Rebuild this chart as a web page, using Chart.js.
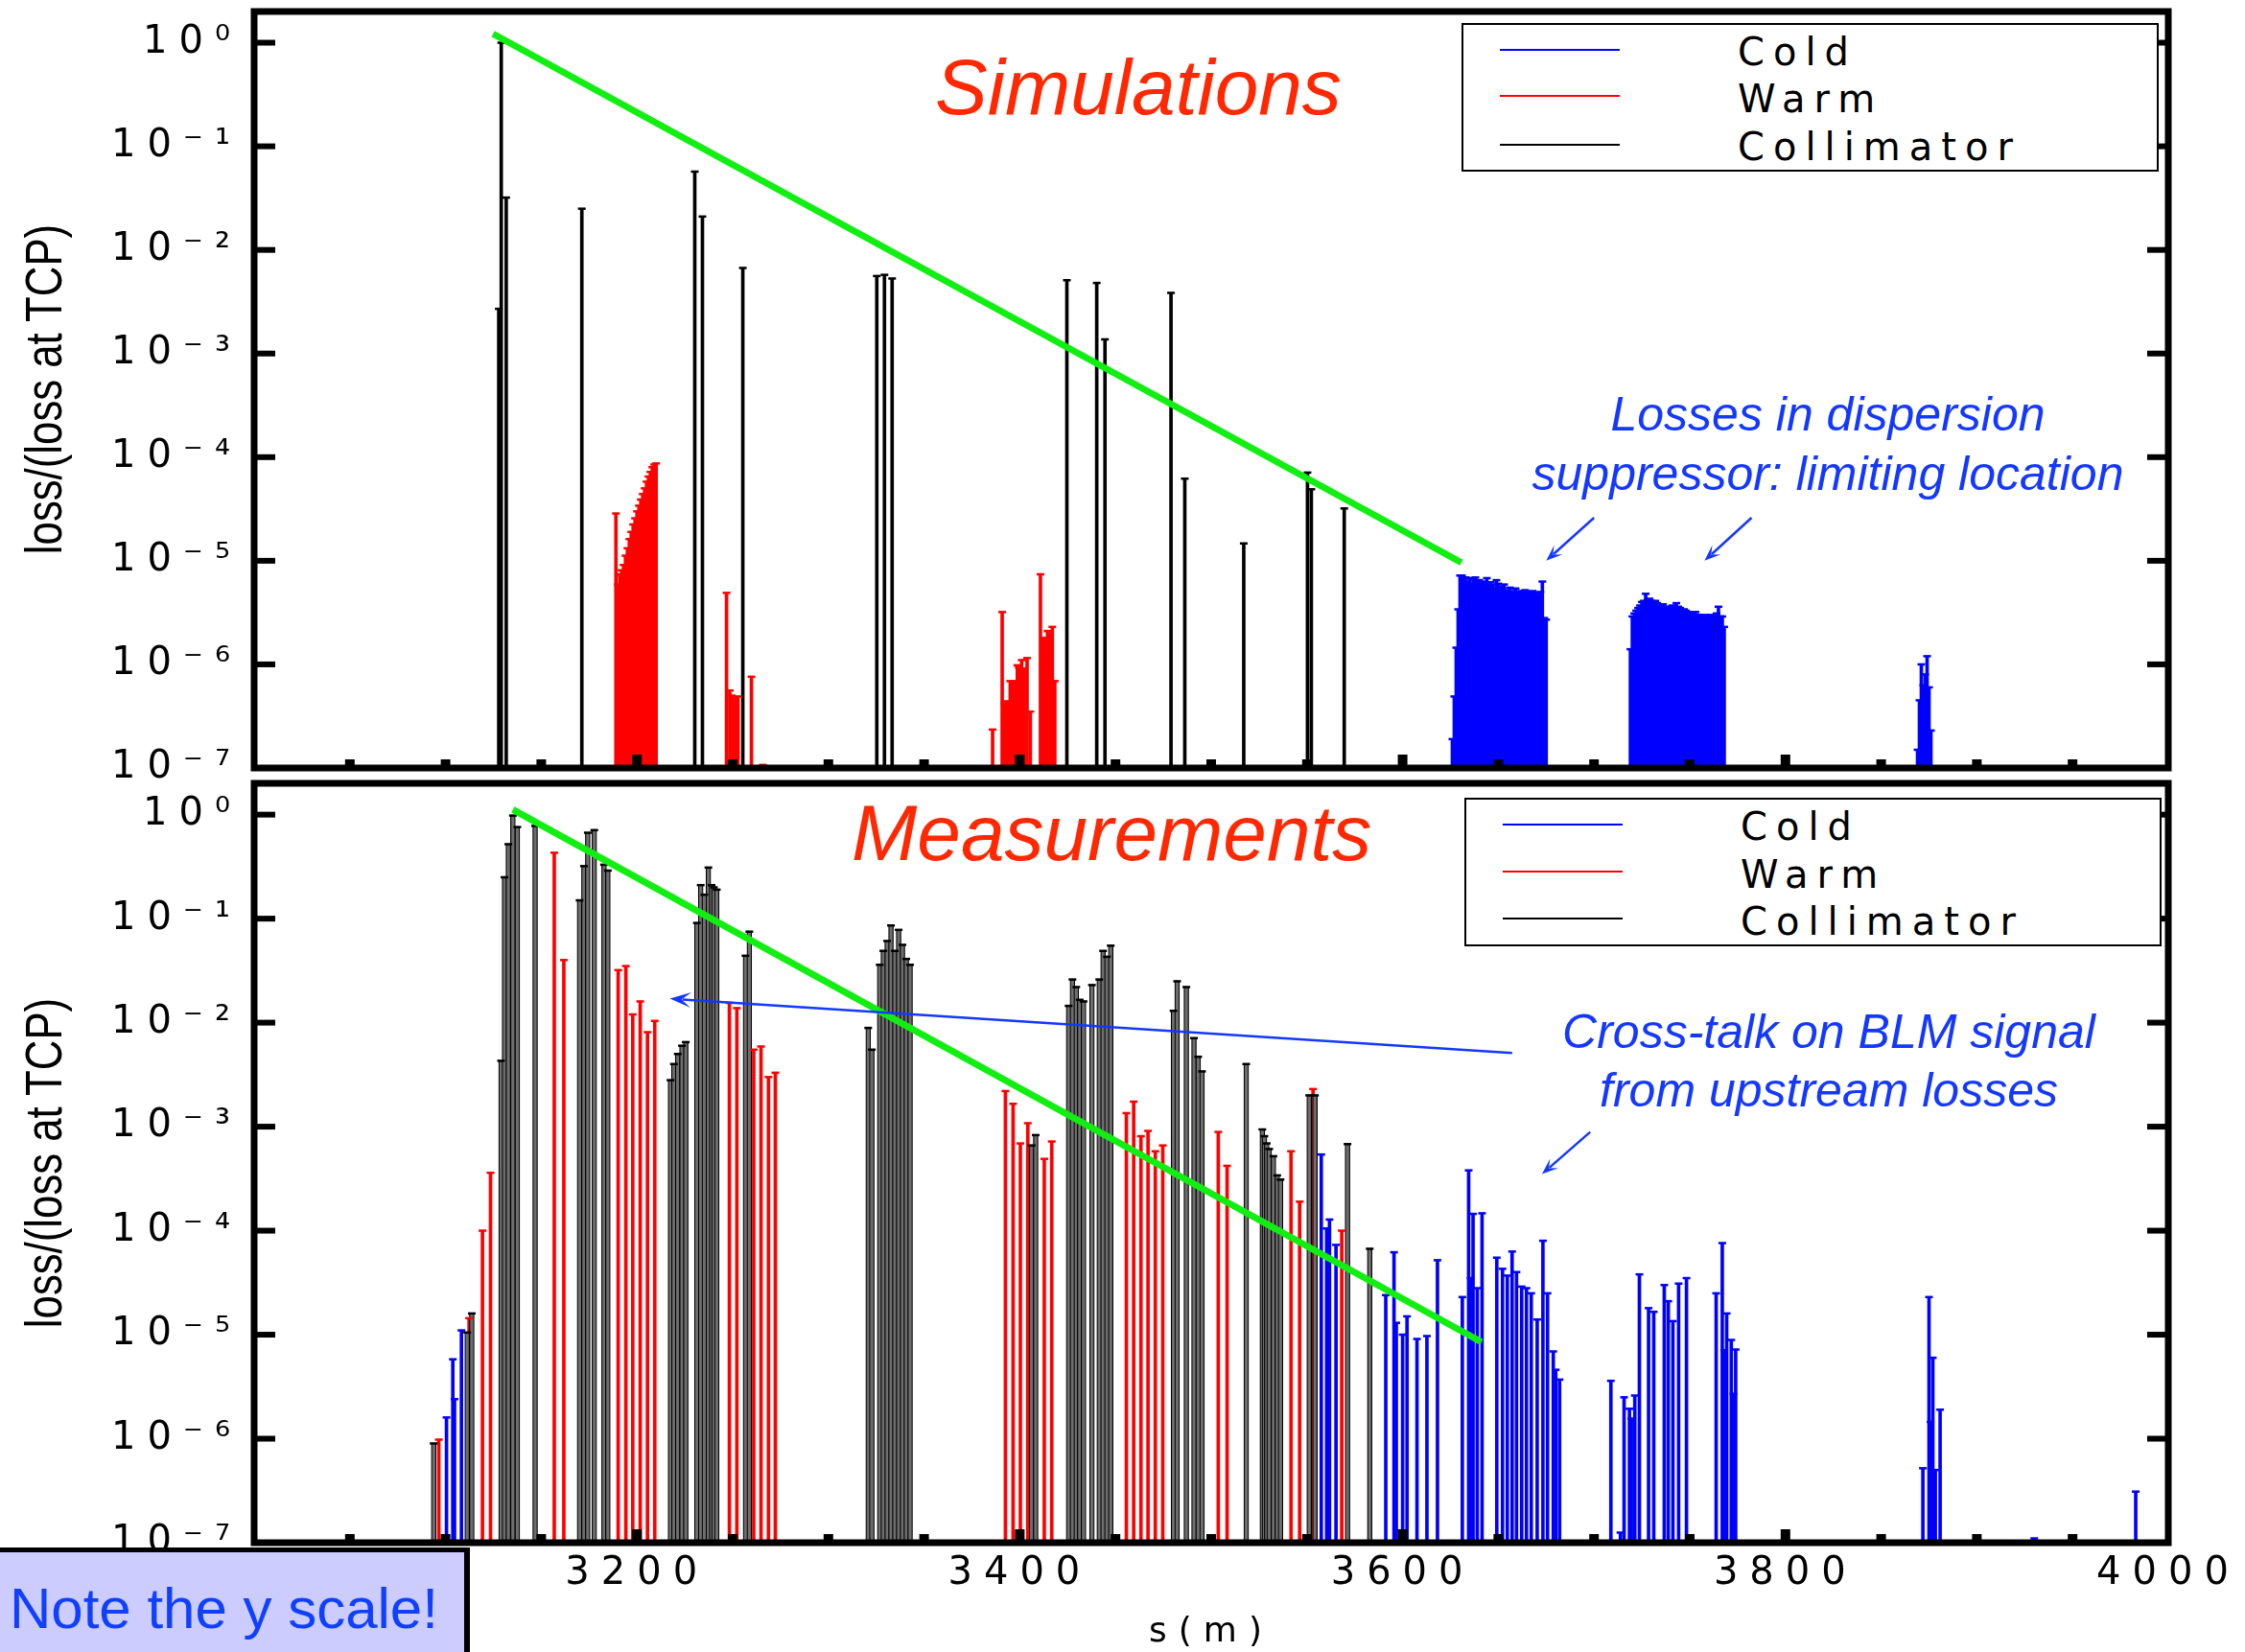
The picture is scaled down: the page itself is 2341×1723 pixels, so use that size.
<!DOCTYPE html>
<html>
<head>
<meta charset="utf-8">
<script src="https://cdn.jsdelivr.net/npm/chart.js@4.4.1/dist/chart.umd.min.js"></script>
<style>
html,body{margin:0;padding:0;background:#fff;}
#page{position:relative;width:2341px;height:1723px;overflow:hidden;background:#fff;}
canvas{position:absolute;left:0;}
.t{position:absolute;white-space:nowrap;line-height:1;}
.ttl{font-family:'Liberation Sans',Arial,sans-serif;font-style:italic;font-size:82px;color:#ff2800;}
.ann{font-family:'Liberation Sans',Arial,sans-serif;font-style:italic;font-size:50px;color:#1438ff;width:900px;text-align:center;}
.lg{position:absolute;border:2px solid #000;background:#fff;box-sizing:border-box;}
.lgl{position:absolute;height:2px;}
.lgt{position:absolute;font-family:'DejaVu Sans',sans-serif;font-size:40px;letter-spacing:9px;color:#000;white-space:nowrap;line-height:1;}
.yt{position:absolute;width:600px;height:54px;line-height:54px;text-align:center;font-family:'Liberation Sans',Arial,sans-serif;font-size:54px;color:#000;transform:rotate(-90deg) scaleX(0.81);white-space:nowrap;}
#note{position:absolute;left:-6px;top:1614px;width:496px;height:120px;background:#ccccff;border-top:5px solid #000;border-right:6px solid #000;box-sizing:border-box;}
#notetxt{position:absolute;left:10px;top:1648px;font-family:'Liberation Sans',Arial,sans-serif;font-size:60px;color:#1040ff;white-space:nowrap;line-height:1;}
</style>
</head>
<body>
<div id="page">
<canvas id="c1" width="2341" height="830" style="top:0px"></canvas>
<canvas id="c2" width="2341" height="918" style="top:805px"></canvas>

<div class="yt" style="left:-255px;top:379px;">loss/(loss at TCP)</div>
<div class="yt" style="left:-255px;top:1186px;">loss/(loss at TCP)</div>

<div class="t ttl" style="left:975px;top:50px;">Simulations</div>
<div class="t ttl" style="left:888px;top:828px;">Measurements</div>

<div class="t ann" style="left:1456px;top:407px;">Losses in dispersion</div>
<div class="t ann" style="left:1456px;top:469px;">suppressor: limiting location</div>
<div class="t ann" style="left:1457px;top:1051px;">Cross-talk on BLM signal</div>
<div class="t ann" style="left:1457px;top:1112px;">from upstream losses</div>

<div class="lg" style="left:1524px;top:24px;width:727px;height:155px;"></div>
<div class="lgl" style="left:1564px;top:51px;width:125px;background:#0000ff;"></div>
<div class="lgl" style="left:1564px;top:99px;width:125px;background:#ff0000;"></div>
<div class="lgl" style="left:1564px;top:150px;width:125px;background:#000;"></div>
<div class="lgt" style="left:1812px;top:34px;">Cold</div>
<div class="lgt" style="left:1812px;top:83px;">Warm</div>
<div class="lgt" style="left:1812px;top:133px;">Collimator</div>

<div class="lg" style="left:1527px;top:832px;width:727px;height:155px;"></div>
<div class="lgl" style="left:1567px;top:859px;width:125px;background:#0000ff;"></div>
<div class="lgl" style="left:1567px;top:908px;width:125px;background:#ff0000;"></div>
<div class="lgl" style="left:1567px;top:957px;width:125px;background:#000;"></div>
<div class="lgt" style="left:1815px;top:842px;">Cold</div>
<div class="lgt" style="left:1815px;top:892px;">Warm</div>
<div class="lgt" style="left:1815px;top:941px;">Collimator</div>

<div id="note"></div>
<div id="notetxt">Note the y scale!</div>
</div>

<script>
// ---------------- DATA ----------------
// x: position s (m), y: loss / (loss at TCP)
const xTickValues = [3200, 3400, 3600, 3800, 4000];
const xMarksMajor = [3200, 3400, 3600, 3800];
const xMarksMinor = [3050, 3100, 3150, 3250, 3300, 3350, 3450, 3500, 3550, 3650, 3700, 3750, 3850, 3900, 3950];
const yTickValues = [1, 1e-1, 1e-2, 1e-3, 1e-4, 1e-5, 1e-6, 1e-7];
const yTickLabels = ['10⁰', '10⁻¹', '10⁻²', '10⁻³', '10⁻⁴', '10⁻⁵', '10⁻⁶', '10⁻⁷'];

// Simulations
const simColl = [
  [3127.8,2.7e-3],[3129.1,1.0],[3131.7,3.2e-2],[3171.2,2.5e-2],[3230.2,5.7e-2],[3234.2,2.1e-2],[3255.3,6.7e-3],
  [3325.3,5.6e-3],[3329.3,5.75e-3],[3333.3,5.3e-3],[3424.6,5.1e-3],[3440.2,4.8e-3],[3444.5,1.37e-3],[3479.0,3.85e-3],
  [3486.2,6.2e-5],[3517.0,1.47e-5],[3550.3,7.1e-5],[3552.3,4.9e-5],[3569.5,3.2e-5]
];
const simWarm = [
  [3189,2.86e-5],[3190,5.9e-6],[3191,7.4e-6],[3192,8.1e-6],[3193,9.1e-6],[3194,1.12e-5],[3195,1.32e-5],[3196,1.62e-5],
  [3197,1.9e-5],[3198,2.24e-5],[3199,2.57e-5],[3200,3.0e-5],[3201,3.4e-5],[3202,3.9e-5],[3203,4.4e-5],[3204,5.0e-5],
  [3205,5.8e-5],[3206,6.5e-5],[3207,7.2e-5],[3208,8.0e-5],[3209,8.5e-5],[3210,8.7e-5],
  [3246.8,4.9e-6],[3248.5,5.6e-7],[3249.5,5.0e-7],[3250.5,4.6e-7],[3251.5,4.8e-7],[3252.8,4.9e-7],[3259.8,7.6e-7],[3265.8,1.07e-7],
  [3385.8,2.35e-7],[3390.8,3.2e-6],[3392.0,4.2e-7],[3393.5,4.4e-7],[3395.0,6.9e-7],[3396.3,6.6e-7],[3397.3,6.9e-7],
  [3398.7,9.8e-7],[3399.5,9.3e-7],[3401.0,1.1e-6],[3402.3,9.1e-7],[3403.8,1.15e-6],[3405.5,3.5e-7],
  [3410.8,7.4e-6],[3412.2,1.8e-6],[3413.3,1.75e-6],[3414.5,2.1e-6],[3415.7,2.0e-6],[3417.0,2.3e-6],[3418.3,6.9e-7]
];
const simCold = [
  [3626,1.9e-7],[3627,4.9e-7],[3628,1.45e-6],[3629,3.4e-6],[3630,7.2e-6],[3631,7.2e-6],[3632,6.8e-6],[3633,6.9e-6],
  [3634,6.3e-6],[3635,6.8e-6],[3636,6.0e-6],[3637,6.6e-6],[3638,6.9e-6],[3639,6.2e-6],[3640,6.5e-6],[3641,5.9e-6],
  [3642,6.3e-6],[3643,6.0e-6],[3644,6.8e-6],[3645,5.8e-6],[3646,6.2e-6],[3647,5.9e-6],[3648,5.5e-6],[3649,6.5e-6],
  [3650,6.0e-6],[3651,5.6e-6],[3652,5.4e-6],[3653,5.9e-6],[3654,5.2e-6],[3655,5.0e-6],[3656,5.5e-6],[3657,5.1e-6],
  [3658,4.9e-6],[3659,5.4e-6],[3660,5.0e-6],[3661,4.8e-6],[3662,5.1e-6],[3663,4.9e-6],[3664,5.2e-6],[3665,4.7e-6],
  [3666,5.0e-6],[3667,4.8e-6],[3668,5.1e-6],[3669,4.7e-6],[3670,4.9e-6],[3671,4.6e-6],[3672,5.0e-6],[3673,6.3e-6],
  [3674,2.8e-6],[3675,2.7e-6],
  [3719,1.4e-6],[3720,2.9e-6],[3721,3.1e-6],[3722,3.3e-6],[3723,3.5e-6],[3724,3.7e-6],[3725,4.0e-6],[3726,4.1e-6],
  [3727,4.8e-6],[3728,4.2e-6],[3729,4.3e-6],[3730,4.1e-6],[3731,4.0e-6],[3732,4.1e-6],[3733,3.9e-6],[3734,3.8e-6],
  [3735,3.7e-6],[3736,3.8e-6],[3737,3.6e-6],[3738,3.6e-6],[3739,3.5e-6],[3740,3.5e-6],[3741,3.7e-6],[3742,3.5e-6],
  [3743,3.9e-6],[3744,3.6e-6],[3745,3.5e-6],[3746,3.3e-6],[3747,3.4e-6],[3748,3.3e-6],[3749,3.2e-6],[3750,3.2e-6],
  [3751,3.1e-6],[3752,3.0e-6],[3753,3.2e-6],[3754,3.0e-6],[3755,3.0e-6],[3756,2.9e-6],[3757,2.9e-6],[3758,3.0e-6],
  [3759,2.9e-6],[3760,2.9e-6],[3761,3.0e-6],[3762,2.9e-6],[3763,2.9e-6],[3764,3.1e-6],[3765,3.6e-6],[3766,2.9e-6],
  [3767,2.9e-6],[3768,2.3e-6],
  [3869,1.5e-7],[3870,4.5e-7],[3871,1.0e-6],[3872,6.3e-7],[3873,8.0e-7],[3874,1.2e-6],[3875,6.0e-7],[3876,2.3e-7]
];
const simTrend = [[3124.8,1.22],[3630.7,9.6e-6]];

// Measurements
const measColl = [
  [3093.8,9e-7],[3111.3,1.05e-5],[3113.7,1.6e-5],[3129.0,4.3e-3],[3130.8,0.25],[3132.8,0.52],[3135.2,0.98],[3137.5,0.76],
  [3146.8,0.78],[3170.0,0.15],[3172.3,0.32],[3174.3,0.67],[3177.7,0.71],[3182.8,0.33],[3184.8,0.29],
  [3217.5,2.8e-3],[3219.3,4.0e-3],[3221.3,5.0e-3],[3223.5,6.0e-3],[3225.5,6.5e-3],
  [3231.3,0.091],[3233.3,0.21],[3235.2,0.17],[3237.3,0.31],[3239.0,0.21],[3240.2,0.20],[3241.7,0.19],
  [3256.7,0.044],[3258.7,0.075],
  [3320.8,8.9e-3],[3322.7,5.5e-3],[3326.8,0.036],[3328.7,0.049],[3330.7,0.061],[3332.7,0.086],[3334.7,0.049],
  [3336.7,0.078],[3338.7,0.056],[3340.7,0.041],[3342.7,0.036],
  [3406.2,6.6e-4],[3408.3,8.3e-4],
  [3425.5,0.0145],[3427.5,0.026],[3429.5,0.022],[3431.3,0.0166],[3433.3,0.016],[3437.7,0.023],[3441.5,0.026],
  [3443.5,0.049],[3445.5,0.043],[3447.5,0.055],
  [3480.3,0.013],[3482.2,0.025],[3487.0,0.022],[3491.0,7.1e-3],[3493.2,4.7e-3],[3495.2,3.4e-3],
  [3518.3,4.0e-3],[3526.7,9.4e-4],[3527.8,8.1e-4],[3529.0,6.9e-4],[3530.3,6.1e-4],[3532.5,5.2e-4],[3534.5,3.4e-4],[3536.2,3.1e-4],
  [3551.2,2.0e-3],[3554.2,2.0e-3],[3571.2,6.8e-4],[3582.8,6.7e-5]
];
const measWarm = [
  [3096.5,9.8e-7],[3112.3,1.44e-5],[3119.3,1.0e-4],[3123.5,3.6e-4],[3156.8,0.43],[3161.8,0.04],
  [3190.2,0.032],[3194.2,0.035],[3197.8,0.012],[3201.7,0.016],[3205.5,8.1e-3],[3209.3,0.0104],
  [3248.3,0.0155],[3252.2,0.0138],[3261.0,5.5e-3],[3264.8,5.9e-3],[3268.7,3.0e-3],[3272.3,3.3e-3],
  [3392.5,2.2e-3],[3396.5,1.66e-3],[3400.3,6.9e-4],[3404.2,1.08e-3],[3412.8,4.9e-4],[3416.7,7.2e-4],
  [3455.7,1.35e-3],[3459.5,1.74e-3],[3463.3,8.1e-4],[3467.0,9.1e-4],[3470.8,5.8e-4],[3474.7,6.6e-4],
  [3503.7,8.9e-4],[3508.3,4.2e-4],[3541.7,5.8e-4],[3546.2,1.9e-4],[3553.2,2.3e-3],[3568.2,1.0e-4]
];
const measCold = [
  [3100.5,1.6e-6],[3103.8,5.8e-6],[3104.7,2.4e-6],[3108.3,1.1e-5],
  [3557.5,5.4e-4],[3560.3,1.05e-4],[3561.8,1.28e-4],[3565.2,7.3e-5],
  [3591.2,2.4e-5],[3595.5,6.2e-5],[3596.7,1.3e-5],[3600.0,1.0e-5],[3602.3,1.5e-5],[3607.5,9.1e-6],[3612.7,9.7e-6],[3618.2,5.2e-5],
  [3631.2,2.3e-5],[3634.5,3.8e-4],[3635.5,3.5e-5],[3636.8,1.45e-4],[3639.0,2.8e-5],[3641.5,1.47e-4],
  [3649.2,5.5e-5],[3652.2,4.3e-5],[3654.7,3.7e-5],[3657.2,6.3e-5],[3659.5,4.0e-5],[3662.2,2.9e-5],[3664.7,2.8e-5],
  [3667.2,2.5e-5],[3670.3,1.4e-5],[3673.3,8.0e-5],[3675.7,2.5e-5],[3678.7,6.9e-6],[3680.0,4.6e-6],[3682.0,3.7e-6],
  [3708.8,3.6e-6],[3713.8,1.25e-7],[3715.7,2.5e-6],[3718.5,1.94e-6],[3719.5,1.56e-6],[3721.3,2.6e-6],[3723.7,3.8e-5],
  [3728.5,1.8e-5],[3731.2,1.66e-5],[3736.7,3.0e-5],[3738.8,2.1e-5],[3741.2,1.35e-5],[3744.2,3.1e-5],[3748.3,3.5e-5],
  [3763.8,2.5e-5],[3767.0,7.6e-5],[3768.0,7.1e-6],[3769.3,1.6e-5],[3771.7,8.9e-6],[3772.8,2.7e-6],[3774.0,7.2e-6],
  [3871.8,5.2e-7],[3875.0,2.3e-5],[3875.8,1.45e-6],[3877.0,6.0e-6],[3878.3,5.0e-7],[3880.8,1.9e-6],
  [3930.0,1.1e-7],[3983.0,3.1e-7]
];
const measTrend = [[3135.2,1.12],[3641.2,8.5e-6]];

// annotation arrows (data coordinates)
const simArrows = [
  {from:[3700,2.6e-5], to:[3675,1.0e-5]},
  {from:[3782.3,2.6e-5], to:[3757.7,1.0e-5]}
];
const measArrows = [
  {from:[3657.2,5.1e-3], to:[3217.2,0.017], long:true},
  {from:[3698,8.9e-4], to:[3672.8,3.5e-4]}
];

// ---------------- RENDER ----------------
const BLUE = '#0000ff', RED = '#ff0000', BLACK = '#000000', ANN = '#1438ff', GREEN = '#11ee11';
const toXY = a => a.map(([x, y]) => ({x, y}));

const spacingPlugin = {
  id: 'spacing',
  beforeDraw(chart) { chart.ctx.letterSpacing = '12px'; },
  afterDraw(chart) { chart.ctx.letterSpacing = '0px'; }
};

const framePlugin = {
  id: 'frame',
  afterDraw(chart) {
    const {ctx, chartArea: a, scales: {x, y}} = chart;
    ctx.save();
    ctx.fillStyle = '#000';
    xMarksMinor.forEach(s => { const px = x.getPixelForValue(s); ctx.fillRect(px - 5, a.bottom - 9, 10, 9); });
    xMarksMajor.forEach(s => { const px = x.getPixelForValue(s); ctx.fillRect(px - 5, a.bottom - 14, 10, 14); });
    yTickValues.forEach(v => {
      const py = y.getPixelForValue(v);
      ctx.fillRect(a.left, py - 3, 22, 6);
      ctx.fillRect(a.right - 22, py - 3, 22, 6);
    });
    ctx.lineWidth = 7;
    ctx.strokeStyle = '#000';
    ctx.strokeRect(a.left, a.top, a.right - a.left, a.bottom - a.top);
    ctx.restore();
  }
};

const arrowPlugin = {
  id: 'arrows',
  afterDatasetsDraw(chart, args, opts) {
    const {ctx, scales: {x, y}} = chart;
    (opts.items || []).forEach(a => {
      const x1 = x.getPixelForValue(a.from[0]), y1 = y.getPixelForValue(a.from[1]);
      const x2 = x.getPixelForValue(a.to[0]), y2 = y.getPixelForValue(a.to[1]);
      const L = a.long ? 22 : 17, W = a.long ? 8 : 6.5;
      const ang = Math.atan2(y2 - y1, x2 - x1), c = Math.cos(ang), s = Math.sin(ang);
      ctx.save();
      ctx.strokeStyle = ANN; ctx.fillStyle = ANN; ctx.lineWidth = 2.5;
      ctx.beginPath(); ctx.moveTo(x1, y1); ctx.lineTo(x2 - c * L * 0.6, y2 - s * L * 0.6); ctx.stroke();
      ctx.beginPath(); ctx.moveTo(x2, y2);
      ctx.lineTo(x2 - c * L - s * W, y2 - s * L + c * W);
      ctx.lineTo(x2 - c * L * 0.55, y2 - s * L * 0.55);
      ctx.lineTo(x2 - c * L + s * W, y2 - s * L - c * W);
      ctx.closePath(); ctx.fill();
      ctx.restore();
    });
  }
};

function barSet(label, arr, color, thick, fill, border) {
  return {
    type: 'bar', label, data: toXY(arr), grouped: false, order: 3,
    backgroundColor: fill || color, borderColor: border || color, borderWidth: border ? 1.2 : 0,
    barThickness: thick, categoryPercentage: 1, barPercentage: 1
  };
}
function capSet(label, arr, color) {
  return {
    type: 'line', label: label + ' top', data: toXY(arr), showLine: false, order: 2,
    pointStyle: 'line', pointRadius: 4, pointBorderWidth: 2.5, pointBorderColor: color,
    pointBackgroundColor: color, borderColor: color
  };
}
function trendSet(arr) {
  return {
    type: 'line', label: 'trend', data: toXY(arr), order: 0, borderColor: GREEN, borderWidth: 7,
    pointRadius: 0, borderCapStyle: 'butt', fill: false, tension: 0
  };
}

function makeChart(id, sets, arrows, bottomPanel) {
  const tickFont = {family: "'DejaVu Sans', sans-serif", size: 40, lineHeight: 1};
  const titleFont = {family: "'DejaVu Sans', sans-serif", size: 36, lineHeight: 1};
  return new Chart(document.getElementById(id), {
    type: 'bar',
    data: {datasets: sets},
    plugins: [spacingPlugin, arrowPlugin, framePlugin],
    options: {
      responsive: false, animation: false, events: [],
      layout: {padding: {left: 0, right: 80, top: 12, bottom: 0}},
      plugins: {legend: {display: false}, tooltip: {enabled: false}, arrows: {items: arrows}},
      scales: {
        x: {
          type: 'linear', min: 3000, max: 4000, offset: false,
          grid: {display: false, drawTicks: false, offset: false}, border: {display: false},
          afterBuildTicks: s => { s.ticks = xTickValues.map(v => ({value: v})); },
          afterFit: s => { s.height = bottomPanel ? 114 : 29; s.paddingLeft = 0; s.paddingRight = 0; },
          ticks: {display: bottomPanel, padding: 13, font: tickFont, color: '#000', maxRotation: 0, autoSkip: false,
                  callback: v => String(v)},
          title: {display: bottomPanel, text: 's(m)', font: titleFont, color: '#000', padding: {top: 0, bottom: 2}}
        },
        y: {
          type: 'logarithmic', min: 1e-7, max: 2,
          grid: {display: false, drawTicks: false}, border: {display: false},
          afterBuildTicks: s => { s.ticks = yTickValues.map(v => ({value: v})); },
          afterFit: s => { s.width = 265; s.paddingTop = 0; s.paddingBottom = 0; },
          ticks: {padding: 13, font: tickFont, color: '#000', autoSkip: false,
                  callback: v => {
                    const i = yTickValues.findIndex(t => Math.abs(Math.log10(t) - Math.log10(v)) < 1e-6);
                    return i >= 0 ? yTickLabels[i] : '';
                  }}
        }
      }
    }
  });
}

makeChart('c1', [
  trendSet(simTrend),
  capSet('Collimator', simColl, BLACK), capSet('Warm', simWarm, RED), capSet('Cold', simCold, BLUE),
  barSet('Collimator', simColl, BLACK, 3), barSet('Warm', simWarm, RED, 3), barSet('Cold', simCold, BLUE, 3)
], simArrows, false);

makeChart('c2', [
  trendSet(measTrend),
  capSet('Collimator', measColl, BLACK), capSet('Warm', measWarm, RED), capSet('Cold', measCold, BLUE),
  barSet('Collimator', measColl, BLACK, 5, '#6e6e6e', '#000'), barSet('Warm', measWarm, RED, 3), barSet('Cold', measCold, BLUE, 3)
], measArrows, true);
</script>
</body>
</html>
